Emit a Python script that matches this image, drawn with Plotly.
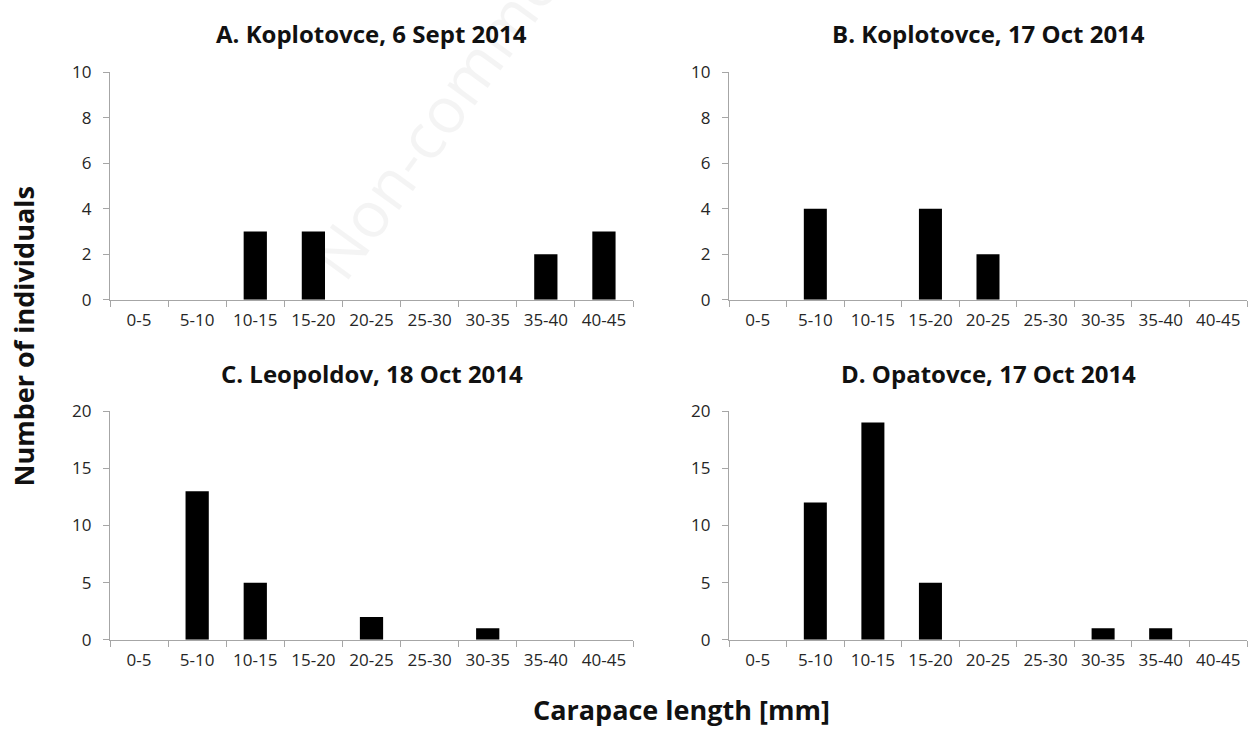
import plotly.graph_objects as go

categories = ["0-5", "5-10", "10-15", "15-20", "20-25", "25-30", "30-35", "35-40", "40-45"]
values_a = [0, 0, 3, 3, 0, 0, 0, 2, 3]
values_b = [0, 4, 0, 4, 2, 0, 0, 0, 0]
values_c = [0, 13, 5, 0, 2, 0, 1, 0, 0]
values_d = [0, 12, 19, 5, 0, 0, 1, 1, 0]
titles = ["A. Koplotovce, 6 Sept 2014", "B. Koplotovce, 17 Oct 2014",
          "C. Leopoldov, 18 Oct 2014", "D. Opatovce, 17 Oct 2014"]
y_max = [10, 10, 20, 20]
y_step = [2, 2, 5, 5]

W, H = 1248, 738
FONT = "Open Sans"
AXIS_COL = "#a6a6a6"
TXT = "#262626"

panels = [
    dict(x=(110, 633), y=(62, 297), ty=22),
    dict(x=(729, 1247), y=(62, 297), ty=22),
    dict(x=(110, 633), y=(412, 648), ty=373),
    dict(x=(729, 1247), y=(412, 648), ty=373),
]
series = [values_a, values_b, values_c, values_d]

fig = go.Figure()
layout = dict(
    width=W, height=H, margin=dict(l=0, r=0, t=0, b=0, pad=0),
    paper_bgcolor="white", plot_bgcolor="white", showlegend=False,
    bargap=0.6, font=dict(family=FONT, color=TXT),
)
annotations = []
for i, (p, vals) in enumerate(zip(panels, series)):
    n = "" if i == 0 else str(i + 1)
    fig.add_trace(go.Bar(x=categories, y=vals, xaxis="x" + n, yaxis="y" + n,
                         marker=dict(color="black", line=dict(width=0))))
    xd = [p["x"][0] / W, p["x"][1] / W]
    yd = [1 - p["y"][1] / H, 1 - p["y"][0] / H]
    layout["xaxis" + n] = dict(
        domain=xd, anchor="y" + n, type="category", range=[-0.5, 8.5],
        showline=True, linecolor=AXIS_COL, linewidth=1.3,
        ticks="outside", tickson="boundaries", ticklen=6, tickcolor=AXIS_COL, tickwidth=1.3,
        ticklabelstandoff=5,
        tickfont=dict(size=17, family=FONT, color=TXT), showgrid=False,
        zeroline=False, fixedrange=True,
    )
    layout["yaxis" + n] = dict(
        domain=yd, anchor="x" + n, range=[0, y_max[i]], dtick=y_step[i], tick0=0,
        showline=True, linecolor=AXIS_COL, linewidth=1.3,
        ticks="outside", ticklen=6, tickcolor=AXIS_COL, tickwidth=1.3,
        ticklabelstandoff=8,
        tickfont=dict(size=17, family=FONT, color=TXT), showgrid=False,
        zeroline=False, fixedrange=True,
    )
    annotations.append(dict(
        text="<b>" + titles[i] + "</b>", x=(xd[0] + xd[1]) / 2, y=1 - p["ty"] / H,
        xref="paper", yref="paper", showarrow=False, xanchor="center", yanchor="middle",
        font=dict(size=24, family=FONT, color="#111"),
    ))

annotations.append(dict(
    text="<b>Number of individuals</b>", x=24 / W, y=1 - 335 / H, xref="paper", yref="paper",
    showarrow=False, textangle=-90, xanchor="center", yanchor="middle",
    font=dict(size=27, family=FONT, color="#111"),
))
annotations.append(dict(
    text="<b>Carapace length [mm]</b>", x=682 / W, y=1 - 720 / H, xref="paper", yref="paper",
    showarrow=False, xanchor="center", yanchor="middle",
    font=dict(size=27, family=FONT, color="#111"),
))
annotations.append(dict(
    text="Non-commercial", x=470 / W, y=1 - 60 / H, xref="paper", yref="paper",
    showarrow=False, textangle=-54, xanchor="center", yanchor="middle",
    font=dict(size=64, family=FONT, color="rgba(0,0,0,0.045)"),
))
layout["annotations"] = annotations
fig.update_layout(**layout)
fig.write_html("out.html", config={"displayModeBar": False},
               post_script="document.body.style.margin='0';document.body.style.overflow='hidden';")
